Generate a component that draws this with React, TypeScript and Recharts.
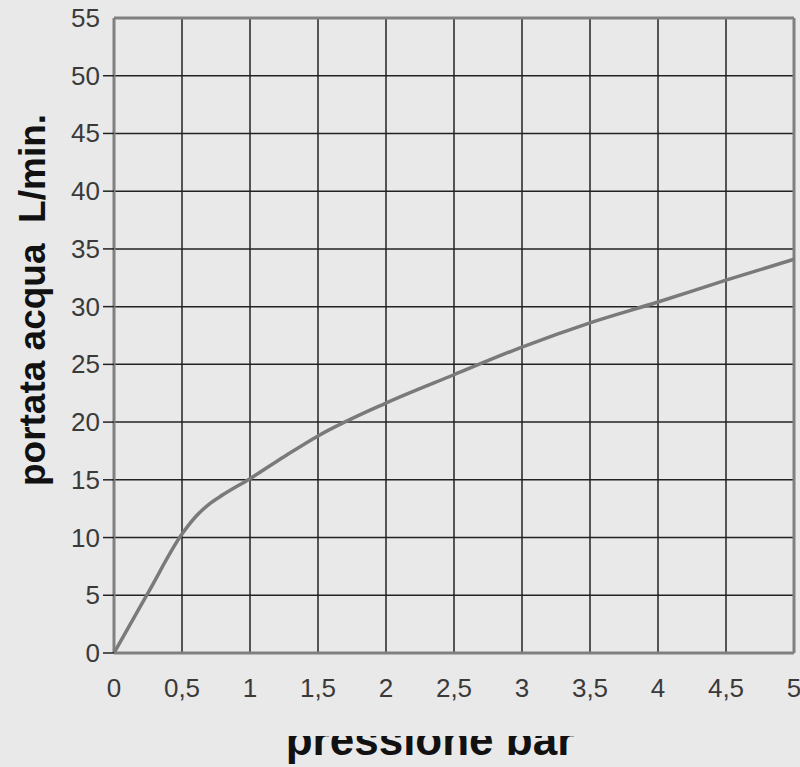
import React from 'react';
import { LineChart, Line, XAxis, YAxis, CartesianGrid, ReferenceLine } from 'recharts';

const pressure = [0, 0.25, 0.5, 0.6, 0.7, 0.8, 1, 1.25, 1.5, 2, 2.5, 3, 3.5, 4, 4.5, 5];
const flow = [0, 5.2, 10.3, 11.8, 12.9, 13.7, 15.1, 17.0, 18.8, 21.65, 24.1, 26.5, 28.6, 30.4, 32.3, 34.1];
const xTicks = [0, 0.5, 1, 1.5, 2, 2.5, 3, 3.5, 4, 4.5, 5];
const yTicks = [0, 5, 10, 15, 20, 25, 30, 35, 40, 45, 50, 55];
const xTitle = 'pressione bar';
const yTitle = 'portata acqua  L/min.';

const data = pressure.map((p, i) => ({ p, q: flow[i] }));

const FONT = '"Liberation Sans", Arial, sans-serif';
const TICK_COLOR = '#3a3a3a';

const fmt = (v: number) => String(v).replace('.', ',');

const XTick = (props: any) => {
  const { x, y, payload } = props;
  return (
    <text x={x} y={y + 44} textAnchor="middle" fontSize={26} fontFamily={FONT} fill={TICK_COLOR}>
      {fmt(payload.value)}
    </text>
  );
};

const YTick = (props: any) => {
  const { x, y, payload } = props;
  return (
    <g>
      {payload.value < 55 && (
        <line x1={x + 3} x2={x + 14} y1={y} y2={y} stroke="#222" strokeWidth={1.5} />
      )}
      <text x={x} y={y + 9} textAnchor="end" fontSize={26} fontFamily={FONT} fill={TICK_COLOR}>
        {fmt(payload.value)}
      </text>
    </g>
  );
};

export default function App() {
  return (
    <div style={{ position: 'absolute', left: 0, top: 0, width: 800, height: 767, background: '#e9e9e9', overflow: 'hidden' }}>
      <LineChart width={800} height={767} data={data} margin={{ top: 18, right: 6, left: 0, bottom: 0 }}>
        <CartesianGrid stroke="#222" strokeWidth={1.5} />
        <XAxis
          dataKey="p"
          type="number"
          domain={[0, 5]}
          ticks={xTicks}
          interval={0}
          height={114}
          axisLine={false}
          tickLine={false}
          tickSize={0}
          tickMargin={0}
          tick={<XTick />}
        />
        <YAxis
          type="number"
          domain={[0, 55]}
          ticks={yTicks}
          interval={0}
          width={114}
          axisLine={false}
          tickLine={false}
          tickSize={11}
          tickMargin={3}
          tick={<YTick />}
        />
        <ReferenceLine x={0} stroke="#808080" strokeWidth={3} />
        <ReferenceLine x={5} stroke="#808080" strokeWidth={3} />
        <ReferenceLine y={0} stroke="#808080" strokeWidth={3} />
        <ReferenceLine y={55} stroke="#808080" strokeWidth={3} />
        <Line
          type="monotone"
          dataKey="q"
          stroke="#7a7a7a"
          strokeWidth={3.5}
          dot={false}
          isAnimationActive={false}
        />
      </LineChart>
      <svg width={800} height={767} style={{ position: 'absolute', left: 0, top: 0, pointerEvents: 'none' }}>
        <defs>
          <clipPath id="xTitleClip">
            <rect x={0} y={736} width={800} height={40} />
          </clipPath>
        </defs>
        <text
          transform="translate(45,300) rotate(-90)"
          textAnchor="middle"
          fontSize={37}
          fontWeight="bold"
          fontFamily={FONT}
          fill="#111"
          style={{ whiteSpace: 'pre' }}
        >
          {yTitle}
        </text>
        <text
          x={430}
          y={755}
          textAnchor="middle"
          fontSize={44}
          fontWeight="bold"
          fontFamily={FONT}
          fill="#111"
          clipPath="url(#xTitleClip)"
        >
          {xTitle}
        </text>
      </svg>
    </div>
  );
}
